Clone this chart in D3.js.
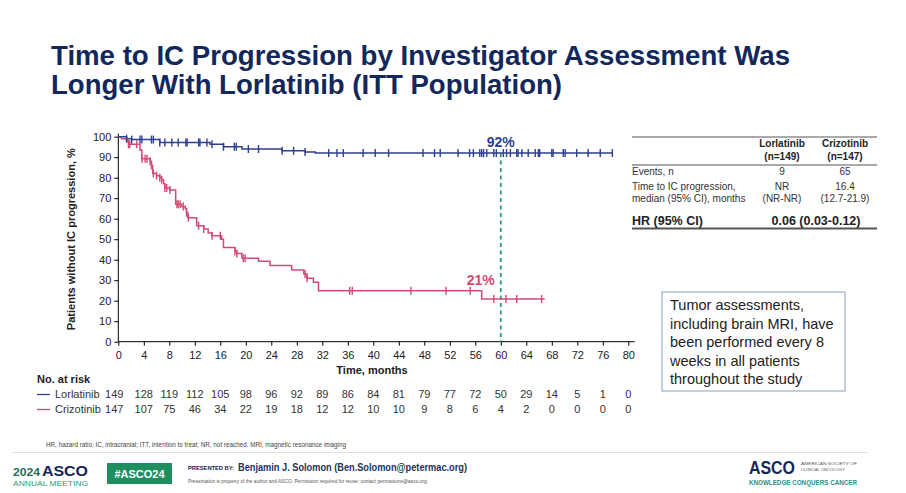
<!DOCTYPE html>
<html>
<head>
<meta charset="utf-8">
<script src="https://cdn.jsdelivr.net/npm/d3@7"></script>
<style>
  html, body { margin: 0; padding: 0; background: #fff; }
  svg { display: block; font-family: 'Liberation Sans', Arial, sans-serif; }
</style>
</head>
<body>
<div id="chart"></div>
<script>
// KM step points (time in months, % without IC progression)
const lorTimes = [0, 1.3, 2.1, 6.5, 14.4, 16.5, 19.4, 25.7, 29.3, 30.9];
const lorSurv = [100, 99, 98.6, 97.2, 96.3, 95.1, 94, 93.1, 92.5, 92];
const lorEnd = 77.6;
const lorCensor = [1.3, 2.1, 3.4, 3.7, 5.2, 5.5, 6.5, 7.3, 8.4, 9.4, 10.6, 10.8, 12.6, 12.8, 13.9, 14.7,
  16.5, 18.2, 18.5, 20.4, 22.0, 25.7, 27.5, 29.3, 33.0, 34.3, 35.3, 38.4, 40.3, 42.4, 47.8, 49.6, 50.5,
  53.3, 55.1, 55.7, 56.7, 57.0, 57.3, 57.8, 58.9, 59.3, 60.4, 60.9, 61.5, 62.5, 62.7, 63.3, 64.3, 65.4,
  65.9, 66.1, 68.0, 68.2, 69.8, 70.1, 71.9, 73.7, 75.6, 77.5];

const crizTimes = [0, 0.5, 1.3, 1.6, 3.4, 3.7, 5.0, 5.2, 5.4, 6.0, 6.5, 6.8, 7.1, 7.3, 8.1, 9.0, 9.9, 10.5,
  10.7, 10.9, 12.3, 13.4, 14.1, 14.7, 16.2, 16.5, 18.3, 18.6, 19.4, 22.0, 23.8, 27.2, 29.1, 29.6, 30.6, 31.4, 57.0];
const crizSurv = [100, 99, 98, 96.3, 93.5, 89.3, 88, 86, 82, 81, 80, 79, 77, 75, 74, 67, 66, 65,
  63, 60.5, 56.6, 55, 53, 51.7, 50, 46, 44, 43, 40.7, 39.3, 37.2, 35, 33, 31, 29, 24.9, 20.8];
const crizEnd = 66.9;
const crizCensor = [1.6, 1.8, 2.9, 3.7, 4.2, 4.5, 5.0, 5.2, 5.5, 6.0, 6.5, 6.8, 7.3, 7.6, 8.1, 9.2, 9.4,
  9.7, 10.2, 10.7, 11.0, 12.6, 13.4, 14.7, 16.0, 18.3, 18.6, 19.6, 19.9, 29.3, 29.6, 36.3, 36.7, 45.9,
  51.4, 55.2, 58.9, 60.8, 62.5, 66.4];

const riskTimes = d3.range(0, 81, 4);
const lorRisk = [149, 128, 119, 112, 105, 98, 96, 92, 89, 86, 84, 81, 79, 77, 72, 50, 29, 14, 5, 1, 0];
const crizRisk = [147, 107, 75, 46, 34, 22, 19, 18, 12, 12, 10, 10, 9, 8, 6, 4, 2, 0, 0, 0, 0];

const yTicks = d3.range(0, 101, 10);
const landmark = 60;
const lorLandmark = '92%';
const crizLandmark = '21%';

const blue = '#2f3f91';
const pink = '#d34a74';
const navy = '#12275a';
const green = '#2a9a7c';

const width = 906, height = 493;
const svg = d3.select('#chart').append('svg').attr('width', width).attr('height', height);

// title
const title = svg.append('g').attr('fill', navy).attr('font-weight', 'bold').attr('font-size', 27);
title.append('text').attr('x', 51).attr('y', 65).attr('textLength', 739).attr('lengthAdjust', 'spacingAndGlyphs')
  .text('Time to IC Progression by Investigator Assessment Was');
title.append('text').attr('x', 51).attr('y', 93.5).attr('textLength', 511).attr('lengthAdjust', 'spacingAndGlyphs')
  .text('Longer With Lorlatinib (ITT Population)');

// scales
const x = d3.scaleLinear().domain([0, 80]).range([118.3, 628.3]);
const y = d3.scaleLinear().domain([0, 100]).range([341.7, 136.7]);

const plot = svg.append('g');

const yAxis = plot.append('g').attr('transform', `translate(${x(0)},0)`)
  .call(d3.axisLeft(y).tickValues(yTicks).tickSize(4).tickSizeOuter(0));
yAxis.select('.domain').attr('d', `M0,${y(0)}V${y(101.5)}`);
yAxis.selectAll('text').attr('font-size', 11).attr('fill', '#222').attr('font-family', null);

const xAxis = plot.append('g').attr('transform', `translate(0,${y(0)})`)
  .call(d3.axisBottom(x).tickValues(riskTimes).tickSize(4).tickSizeOuter(0));
xAxis.select('.domain').attr('d', `M${x(0)},0H${x(81)}`);
xAxis.selectAll('text').attr('font-size', 11).attr('fill', '#222').attr('font-family', null).attr('dy', '0.9em');

plot.append('text').attr('transform', `translate(75,${y(50)}) rotate(-90)`)
  .attr('text-anchor', 'middle').attr('font-weight', 'bold').attr('font-size', 10.5).attr('fill', '#222')
  .attr('textLength', 182).attr('lengthAdjust', 'spacingAndGlyphs')
  .text('Patients without IC progression, %');

plot.append('text').attr('x', 372).attr('y', 374).attr('text-anchor', 'middle')
  .attr('font-weight', 'bold').attr('font-size', 11).attr('fill', '#222').text('Time, months');

// landmark line
plot.append('line').attr('x1', x(landmark)).attr('x2', x(landmark))
  .attr('y1', y(92)).attr('y2', y(0))
  .attr('stroke', green).attr('stroke-width', 1.8).attr('stroke-dasharray', '4,3.5');

// KM curves
const stepAt = (times, surv, t) => surv[d3.bisectRight(times, t) - 1];
const line = d3.line().x(d => x(d[0])).y(d => y(d[1])).curve(d3.curveStepAfter);

function drawArm(times, surv, end, censor, color) {
  const pts = times.map((t, i) => [t, surv[i]]);
  pts.push([end, surv[surv.length - 1]]);
  plot.append('path').datum(pts).attr('d', line)
    .attr('fill', 'none').attr('stroke', color).attr('stroke-width', 1.5);
  plot.append('g').selectAll('line').data(censor).join('line')
    .attr('x1', d => x(d)).attr('x2', d => x(d))
    .attr('y1', d => y(stepAt(times, surv, d)) - 4)
    .attr('y2', d => y(stepAt(times, surv, d)) + 4)
    .attr('stroke', color).attr('stroke-width', 1.4);
}
drawArm(crizTimes, crizSurv, crizEnd, crizCensor, pink);
drawArm(lorTimes, lorSurv, lorEnd, lorCensor, blue);

plot.append('text').attr('x', x(landmark)).attr('y', 147).attr('text-anchor', 'middle')
  .attr('font-weight', 'bold').attr('font-size', 14).attr('fill', blue).text(lorLandmark);
plot.append('text').attr('x', x(landmark) - 20).attr('y', 285).attr('text-anchor', 'middle')
  .attr('font-weight', 'bold').attr('font-size', 14).attr('fill', pink).text(crizLandmark);

// number at risk
const risk = svg.append('g').attr('font-size', 11).attr('fill', '#333');
risk.append('text').attr('x', 37).attr('y', 383).attr('font-weight', 'bold').attr('fill', '#222').text('No. at risk');
[['Lorlatinib', lorRisk, blue, 398], ['Crizotinib', crizRisk, pink, 413]].forEach(([name, vals, color, yy]) => {
  risk.append('line').attr('x1', 37).attr('x2', 50).attr('y1', yy - 3.5).attr('y2', yy - 3.5)
    .attr('stroke', color).attr('stroke-width', 1.3);
  risk.append('text').attr('x', 55).attr('y', yy).text(name);
  risk.append('g').selectAll('text').data(vals).join('text')
    .attr('x', (d, i) => x(riskTimes[i]) - (i === 0 ? 4 : 0)).attr('y', yy)
    .attr('text-anchor', 'middle').text(d => d);
});

// summary table
const tbl = svg.append('g').attr('fill', '#333').attr('font-size', 10);
const tx0 = 632, tx1 = 877, c1 = 782, c2 = 845;
tbl.append('line').attr('x1', tx0).attr('x2', tx1).attr('y1', 137).attr('y2', 137).attr('stroke', '#555').attr('stroke-width', 1);
tbl.append('line').attr('x1', tx0).attr('x2', tx1).attr('y1', 165).attr('y2', 165).attr('stroke', '#555').attr('stroke-width', 1);
tbl.append('line').attr('x1', tx0).attr('x2', tx1).attr('y1', 228.5).attr('y2', 228.5).attr('stroke', '#555').attr('stroke-width', 1.8);
const hdr = tbl.append('g').attr('font-weight', 'bold').attr('text-anchor', 'middle').attr('fill', '#222');
hdr.append('text').attr('x', c1).attr('y', 147).text('Lorlatinib');
hdr.append('text').attr('x', c1).attr('y', 160).text('(n=149)');
hdr.append('text').attr('x', c2).attr('y', 147).text('Crizotinib');
hdr.append('text').attr('x', c2).attr('y', 160).text('(n=147)');
tbl.append('text').attr('x', tx0).attr('y', 175).text('Events, n');
tbl.append('text').attr('x', tx0).attr('y', 190).text('Time to IC progression,');
tbl.append('text').attr('x', tx0).attr('y', 202).text('median (95% CI), months');
const mid = tbl.append('g').attr('text-anchor', 'middle');
mid.append('text').attr('x', c1).attr('y', 175).text('9');
mid.append('text').attr('x', c2).attr('y', 175).text('65');
mid.append('text').attr('x', c1).attr('y', 190).text('NR');
mid.append('text').attr('x', c1).attr('y', 202).text('(NR-NR)');
mid.append('text').attr('x', c2).attr('y', 190).text('16.4');
mid.append('text').attr('x', c2).attr('y', 202).text('(12.7-21.9)');
tbl.append('text').attr('x', tx0).attr('y', 225).attr('font-weight', 'bold').attr('font-size', 12.5).attr('fill', '#222').text('HR (95% CI)');
tbl.append('text').attr('x', 816).attr('y', 225).attr('text-anchor', 'middle').attr('font-weight', 'bold')
  .attr('font-size', 12.5).attr('fill', '#222').text('0.06 (0.03-0.12)');

// note box
svg.append('rect').attr('x', 662).attr('y', 292).attr('width', 183).attr('height', 99)
  .attr('fill', '#fff').attr('stroke', '#9fb0cc').attr('stroke-width', 1.2);
const note = ['Tumor assessments,', 'including brain MRI, have', 'been performed every 8', 'weeks in all patients', 'throughout the study'];
svg.append('g').attr('font-size', 14.5).attr('fill', '#222').selectAll('text').data(note).join('text')
  .attr('x', 670).attr('y', (d, i) => 310 + i * 18.5).text(d => d);

// footnote and footer
svg.append('text').attr('x', 46).attr('y', 447).attr('font-size', 7.2).attr('fill', '#444')
  .attr('textLength', 300).attr('lengthAdjust', 'spacingAndGlyphs')
  .text('HR, hazard ratio; IC, intracranial; ITT, intention to treat; NR, not reached. MRI, magnetic resonance imaging');
svg.append('line').attr('x1', 12).attr('x2', 867).attr('y1', 452.5).attr('y2', 452.5).attr('stroke', '#e2e2e2');

const ft = svg.append('g');
ft.append('text').attr('x', 13).attr('y', 476).attr('font-size', 11.5).attr('font-weight', 'bold')
  .attr('fill', '#1f6f55').attr('textLength', 27).attr('lengthAdjust', 'spacingAndGlyphs').text('2024');
ft.append('text').attr('x', 42).attr('y', 476).attr('font-size', 15).attr('font-weight', 'bold')
  .attr('fill', navy).attr('textLength', 46).attr('lengthAdjust', 'spacingAndGlyphs').text('ASCO');
ft.append('text').attr('x', 13).attr('y', 486).attr('font-size', 6.5)
  .attr('fill', '#2f9a70').attr('textLength', 75).attr('lengthAdjust', 'spacingAndGlyphs').text('ANNUAL MEETING');
ft.append('rect').attr('x', 107).attr('y', 463).attr('width', 65).attr('height', 21).attr('fill', '#1f8e5f');
ft.append('text').attr('x', 139.5).attr('y', 477.5).attr('text-anchor', 'middle').attr('font-size', 11)
  .attr('font-weight', 'bold').attr('fill', '#fff').text('#ASCO24');
ft.append('text').attr('x', 188).attr('y', 470).attr('font-size', 5).attr('font-weight', 'bold')
  .attr('fill', navy).attr('textLength', 46).attr('lengthAdjust', 'spacingAndGlyphs').text('PRESENTED BY:');
ft.append('text').attr('x', 238).attr('y', 471).attr('font-size', 10.5).attr('font-weight', 'bold')
  .attr('fill', '#23335f').attr('textLength', 229).attr('lengthAdjust', 'spacingAndGlyphs')
  .text('Benjamin J. Solomon (Ben.Solomon@petermac.org)');
ft.append('text').attr('x', 188).attr('y', 483).attr('font-size', 4.5).attr('fill', '#555')
  .attr('textLength', 240).attr('lengthAdjust', 'spacingAndGlyphs')
  .text('Presentation is property of the author and ASCO. Permission required for reuse; contact permissions@asco.org.');

ft.append('text').attr('x', 749).attr('y', 474).attr('font-size', 18).attr('font-weight', 'bold')
  .attr('fill', navy).attr('textLength', 46).attr('lengthAdjust', 'spacingAndGlyphs').text('ASCO');
ft.append('text').attr('x', 801).attr('y', 465).attr('font-size', 4.2).attr('fill', '#555')
  .attr('textLength', 56).attr('lengthAdjust', 'spacingAndGlyphs').text('AMERICAN SOCIETY OF');
ft.append('text').attr('x', 801).attr('y', 471).attr('font-size', 4.2).attr('fill', '#555')
  .attr('textLength', 44).attr('lengthAdjust', 'spacingAndGlyphs').text('CLINICAL ONCOLOGY');
ft.append('text').attr('x', 749).attr('y', 485).attr('font-size', 6.5).attr('font-weight', 'bold')
  .attr('fill', '#2a8f86').attr('textLength', 108).attr('lengthAdjust', 'spacingAndGlyphs').text('KNOWLEDGE CONQUERS CANCER');
</script>
</body>
</html>
